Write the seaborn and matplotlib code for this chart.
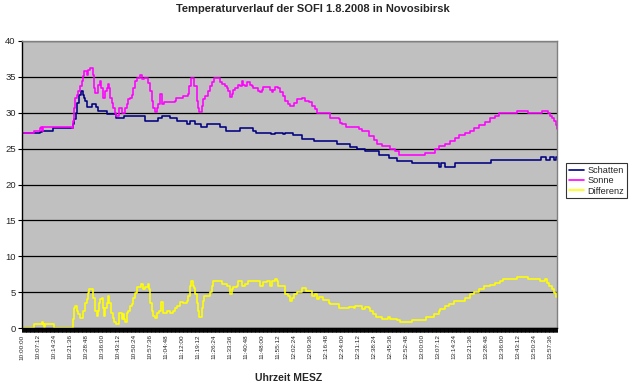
import matplotlib
matplotlib.use("Agg")
import matplotlib.pyplot as plt
from matplotlib.ticker import MultipleLocator
import numpy as np
import pandas as pd
import seaborn as sns

TITLE = "Temperaturverlauf der SOFI 1.8.2008 in Novosibirsk"
X_LABEL = "Uhrzeit MESZ"

TIME_LABELS = [
    "10:00:00", "10:07:12", "10:14:24", "10:21:36", "10:28:48", "10:36:00",
    "10:43:12", "10:50:24", "10:57:36", "11:04:48", "11:12:00", "11:19:12",
    "11:26:24", "11:33:36", "11:40:48", "11:48:00", "11:55:12", "12:02:24",
    "12:09:36", "12:16:48", "12:24:00", "12:31:12", "12:38:24", "12:45:36",
    "12:52:48", "13:00:00", "13:07:12", "13:14:24", "13:21:36", "13:28:48",
    "13:36:00", "13:43:12", "13:50:24", "13:57:36",
]

# minutes after 10:00:00 where the reading changes, and the new reading
SCHATTEN_MIN = [
    0, 8.1, 8.85, 14.1, 22.8, 23.4, 24.15, 24.9, 25.65, 26.55, 27.3, 27.9,
    28.5, 29.4, 31.5, 33.3, 34.35, 38.4, 42.15, 45.9, 55.5, 61.05, 62.85,
    66.6, 69.6, 74.1, 75.6, 77.85, 80.55, 83.1, 89.1, 91.8, 98.1, 104.1,
    105.15, 112.05, 113.85, 117.6, 118.35, 121.65, 125.85, 131.4, 141.6,
    147.6, 150.6, 154.35, 160.35, 164.85, 168.6, 175.35, 187.35, 188.55,
    190.05, 194.85, 210.9, 233.55, 235.65, 237.6, 239.25, 240.15, 240.6,
]
SCHATTEN_TEMP = [
    27.2, 27.3, 27.5, 27.9, 28.4, 29.1, 30.0, 31.4, 32.5, 33.1, 32.5, 32.0,
    31.6, 30.8, 31.2, 30.8, 30.3, 29.8, 29.2, 29.5, 28.8, 29.2, 29.5,
    29.2, 28.8, 28.4, 28.8, 28.4, 28.0, 28.4, 28.0, 27.5, 27.9, 27.5,
    27.2, 27.0, 27.2, 27.0, 27.2, 26.9, 26.4, 26.0, 25.6,
    25.2, 24.9, 24.6, 24.1, 23.75, 23.3, 23.0, 22.5, 23.0,
    22.5, 23.0, 23.4, 23.8, 23.4, 23.8, 23.4, 23.8, 23.8,
]

SONNE_MIN = [
    0, 5.4, 8.1, 8.4, 9.0, 9.6, 22.35, 22.8, 23.4, 23.85, 24.6, 25.35, 26.1,
    26.85, 27.6, 28.05, 29.1, 29.85, 30.6, 31.8, 32.25, 32.85, 34.05, 35.1,
    35.7, 36.3, 37.35, 38.1, 38.55, 39.15, 39.6, 40.35, 41.1, 41.7, 42.3,
    43.65, 44.85, 46.2, 47.1, 47.85, 48.6, 49.35, 50.1, 50.85, 51.6, 53.1,
    54.0, 54.9, 56.85, 57.6, 58.35, 59.1, 59.7, 60.6, 61.35, 62.1, 63.15,
    64.05, 68.85, 69.15, 72.6, 74.85, 75.3, 76.05, 77.55, 78.6, 79.35, 79.8,
    80.85, 81.6, 82.35, 83.85, 84.6, 85.35, 86.4, 89.1, 89.85, 91.35, 92.1,
    92.85, 93.6, 94.35, 95.1, 95.85, 97.35, 98.1, 98.85, 99.6, 100.35,
    101.1, 102.6, 103.35, 104.1, 106.35, 107.1, 107.85, 108.6, 111.6,
    112.35, 113.1, 113.85, 115.35, 116.1, 117.6, 118.35, 119.85, 120.6,
    122.1, 123.6, 125.85, 127.35, 128.85, 130.35, 131.85, 132.6, 138.3,
    138.6, 142.35, 143.1, 143.85, 145.8, 151.35, 152.85, 155.85, 158.1,
    159.6, 161.85, 165.6, 167.85, 169.35, 181.35, 185.85, 187.35, 190.35,
    192.6, 194.85, 196.35, 199.35, 201.6, 203.1, 205.35, 208.05, 210.6,
    212.85, 214.35, 215.1, 222.6, 227.55, 233.85, 236.55, 237.3, 238.35,
    239.25, 240.0, 240.6,
]
SONNE_TEMP = [
    27.2, 27.5, 27.9, 28.0, 27.5, 28.0, 27.9, 28.8, 30.7, 32.1, 32.5, 33.0, 33.7,
    34.4, 35.1, 35.8, 35.3, 36.0, 36.2, 35.3, 33.5, 32.8, 33.9, 34.4,
    33.5, 32.1, 33.0, 33.5, 34.0, 33.5, 32.1, 31.4, 30.7, 30.0, 29.5,
    30.7, 30.0, 30.7, 31.2, 31.9, 32.1, 32.5, 33.5, 34.4, 34.9, 35.2,
    34.7, 34.9, 34.2, 33.0, 31.6, 30.7, 30.1, 30.7, 31.2, 32.6, 31.2,
    31.5, 31.6, 32.0, 32.3, 32.6, 33.7, 34.8, 33.7, 31.6, 30.7, 30.1,
    31.0, 31.9, 32.3, 33.0, 33.7, 34.3, 34.8, 34.3, 34.0, 33.7, 33.5,
    33.0, 32.2, 32.6, 33.2, 33.5, 33.9, 33.7, 34.4, 33.9, 33.7,
    34.3, 33.9, 33.7, 33.5, 33.1, 32.9, 33.2, 33.6, 33.2,
    32.9, 33.2, 33.6, 33.5, 32.9, 32.3, 31.6, 31.2, 30.9,
    31.4, 31.9, 32.0, 31.7, 31.5, 30.9, 30.5, 30.0, 29.8,
    29.2, 29.1, 28.6, 28.4, 28.0, 27.7, 27.4, 26.8, 26.2,
    25.7, 25.4, 24.9, 24.6, 24.1, 24.4, 24.9, 25.3, 25.6,
    26.0, 26.5, 26.9, 27.2, 27.5, 27.9, 28.3, 28.7, 29.2,
    29.5, 29.9, 30.0, 30.3, 30.0, 30.2, 30.0, 29.6, 29.2,
    28.8, 28.3, 27.8,
]

DIFFERENZ_MIN = [
    0, 5.4, 8.85, 9.3, 9.9, 10.35, 14.4, 22.8, 23.4, 23.85, 24.6, 25.35,
    26.1, 27.6, 28.35, 29.1, 29.85, 30.3, 32.1, 32.85, 33.6, 34.05, 34.5,
    35.1, 35.85, 36.6, 37.05, 37.5, 38.1, 38.55, 39.3, 39.9, 40.8, 41.55,
    42.15, 43.8, 44.85, 45.3, 45.9, 46.35, 47.1, 47.85, 48.6, 49.35, 50.1,
    50.85, 51.6, 53.4, 54.6, 55.35, 56.55, 57.3, 57.6, 58.35, 59.1, 59.85,
    60.6, 61.8, 62.55, 63.6, 65.1, 66.6, 68.1, 68.85, 69.6, 71.1, 72.6,
    74.1, 74.85, 75.6, 76.05, 76.8, 77.4, 77.85, 78.6, 79.35, 79.8, 80.85,
    81.3, 81.9, 84.6, 85.35, 86.1, 89.85, 92.4, 93.6, 94.35, 95.1, 96.6,
    97.35, 98.85, 100.35, 101.85, 106.35, 107.1, 108.6, 110.1, 111.6,
    112.35, 113.85, 114.9, 115.35, 117.6, 118.35, 119.85, 120.6, 121.35,
    122.1, 123.6, 125.85, 127.8, 130.35, 131.85, 132.6, 133.35, 135.3,
    137.85, 138.6, 142.35, 146.85, 149.1, 149.85, 152.85, 154.35, 155.85,
    156.6, 157.8, 159.3, 161.85, 164.4, 165.6, 168.6, 169.8, 175.35,
    181.8, 185.1, 187.35, 188.1, 190.35, 191.85, 194.4, 199.35, 201.6,
    203.4, 205.35, 207.6, 210.6, 212.85, 214.8, 216.3, 222.6, 227.55,
    233.1, 235.35, 236.1, 236.85, 238.35, 239.1, 240.3, 240.6,
]
DIFFERENZ_TEMP = [
    0.0, 0.5, 0.8, 0.5, 0.2, 0.5, 0.0, 1.2, 2.8, 3.1, 2.3, 1.9,
    1.4, 2.3, 3.5, 4.0, 4.9, 5.4, 4.2, 2.3, 1.7, 2.3, 3.5,
    4.0, 4.2, 2.8, 1.7, 2.8, 3.5, 4.5, 3.5, 2.1, 1.4, 0.9,
    0.5, 2.1, 1.2, 2.0, 1.2, 0.9, 2.1, 2.3, 3.0, 3.3, 4.2,
    4.9, 5.7, 6.2, 5.4, 5.7, 6.2, 5.4, 3.5, 2.3, 1.7, 1.4,
    2.1, 2.3, 3.6, 2.1, 2.3, 2.1, 2.3, 2.8, 3.1, 3.6, 3.5,
    3.7, 4.4, 5.8, 6.5, 5.8, 5.6, 4.7, 3.5, 2.3, 1.6, 2.8,
    3.7, 4.4, 5.0, 5.8, 6.5, 6.1, 5.8, 4.7, 5.4, 5.7, 5.8,
    6.5, 5.9, 6.2, 6.5, 6.5, 5.8, 6.4, 6.5, 5.9,
    6.5, 6.8, 6.5, 5.9, 5.8, 4.7, 4.4, 3.7, 4.2,
    4.7, 5.0, 5.6, 5.1, 4.4, 4.7, 4.1, 4.3, 3.9,
    3.5, 3.3, 2.8, 2.9, 2.8, 3.1, 2.7, 2.9, 2.8,
    2.3, 1.9, 1.6, 1.2, 1.5, 1.2, 1.1, 0.8, 1.1,
    1.6, 1.9, 2.3, 2.7, 3.0, 3.4, 3.8, 4.2, 4.7,
    5.0, 5.4, 5.8, 6.0, 6.3, 6.6, 6.8, 7.1, 6.8,
    6.5, 6.8, 6.3, 5.8, 5.4, 4.9, 4.3, 4.3,
]

SERIES = ["Schatten", "Sonne", "Differenz"]
COLORS = {"Schatten": "#000080", "Sonne": "#FF00FF", "Differenz": "#FFFF00"}

frames = [
    pd.DataFrame({"minute": SCHATTEN_MIN, "temp": SCHATTEN_TEMP, "series": "Schatten"}),
    pd.DataFrame({"minute": SONNE_MIN, "temp": SONNE_TEMP, "series": "Sonne"}),
    pd.DataFrame({"minute": DIFFERENZ_MIN, "temp": DIFFERENZ_TEMP, "series": "Differenz"}),
]
df = pd.concat(frames, ignore_index=True)

sns.set_style("white")
plt.rcParams["font.family"] = ["Liberation Sans", "DejaVu Sans"]

fig = plt.figure(figsize=(6.29, 3.89), dpi=100)
ax = fig.add_axes([22 / 629, 1 - 328 / 389, 535 / 629, 287 / 389])
ax.set_facecolor("#C0C0C0")

for name in SERIES:
    sub = df[df["series"] == name]
    sns.lineplot(
        data=sub, x="minute", y="temp", ax=ax, color=COLORS[name],
        linewidth=1.15, drawstyle="steps-post", label=name, legend=False,
        estimator=None,
    )

ax.set_xlim(0, 240.6)
ax.set_ylim(0, 40)
ax.yaxis.set_major_locator(MultipleLocator(5))
ax.grid(axis="y", color="black", linewidth=0.9)
ax.set_axisbelow(True)

tick_pos = np.arange(len(TIME_LABELS)) * 7.2
ax.set_xticks(tick_pos)
ax.set_xticklabels(TIME_LABELS, rotation=90, fontsize=4.6)
ax.xaxis.set_minor_locator(MultipleLocator(0.2))
ax.tick_params(axis="x", which="both", length=3.0, width=0.6, color="black",
               direction="out", bottom=True, pad=1.5)
ax.tick_params(axis="y", length=3, width=0.8, color="black", labelsize=6.8,
               direction="out", left=True, pad=1.5)

for side in ["top", "right"]:
    ax.spines[side].set_color("#808080")
    ax.spines[side].set_linewidth(1.0)
for side in ["left", "bottom"]:
    ax.spines[side].set_color("black")
    ax.spines[side].set_linewidth(1.0)

ax.set_xlabel("")
ax.set_ylabel("")
fig.text(289 / 629, 1 - 378 / 389, X_LABEL, ha="center", va="center",
         fontsize=7.5, fontweight="bold")
fig.text(313 / 629, 1 - 9 / 389, TITLE, ha="center", va="center",
         fontsize=8, fontweight="bold")

handles, labels = ax.get_legend_handles_labels()
leg = fig.legend(
    handles, labels, loc="upper left", bbox_to_anchor=(566 / 629, 1 - 163 / 389),
    fontsize=6.6, frameon=True, fancybox=False, edgecolor="black",
    borderpad=0.3, labelspacing=0.15, handlelength=1.7, handletextpad=0.35,
    borderaxespad=0,
)
leg.get_frame().set_linewidth(0.8)
for line in leg.get_lines():
    line.set_linewidth(1.2)

fig.savefig("out.png", dpi=100)
